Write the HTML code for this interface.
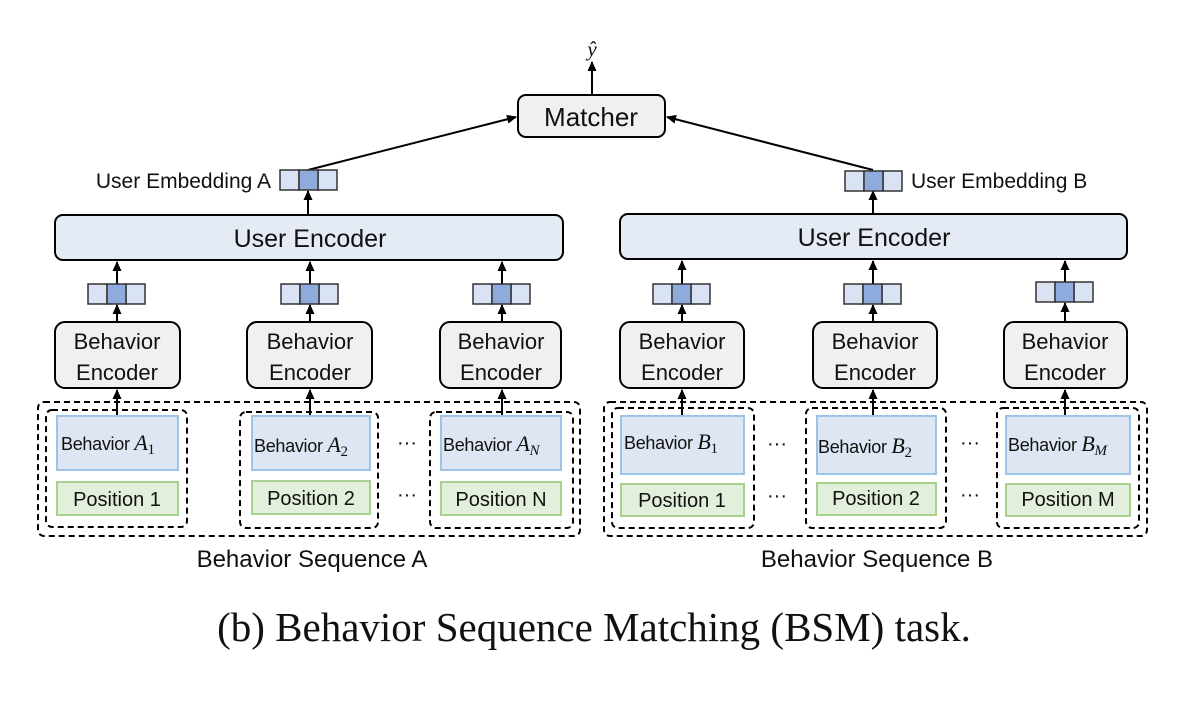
<!DOCTYPE html>
<html><head><meta charset="utf-8"><style>
body{margin:0;background:#fff;width:1194px;height:716px;overflow:hidden}
text{font-family:"Liberation Sans",sans-serif;fill:#111}
</style></head><body>
<svg width="1194" height="716" viewBox="0 0 1194 716" xmlns="http://www.w3.org/2000/svg">
<defs><marker id="a" markerWidth="10" markerHeight="10" refX="9" refY="5" orient="auto" markerUnits="userSpaceOnUse"><path d="M0,0.5 L10,5 L0,9.5 z" fill="#000"/></marker></defs>
<g stroke="#000" stroke-width="2" fill="none">
<line x1="592" y1="95" x2="592" y2="62" marker-end="url(#a)"/>
<line x1="308" y1="170" x2="516" y2="117" marker-end="url(#a)"/>
<line x1="873" y1="170" x2="667" y2="117" marker-end="url(#a)"/>
<line x1="308" y1="215" x2="308" y2="191" marker-end="url(#a)"/>
<line x1="873" y1="214" x2="873" y2="191" marker-end="url(#a)"/>
</g>
<rect x="518" y="95" width="147" height="42" rx="8" fill="#f0f0f0" stroke="#000" stroke-width="2"/>
<text x="591" y="126" font-size="26" text-anchor="middle">Matcher</text>
<text x="592" y="56" font-size="21" text-anchor="middle" font-style="italic" style="font-family:'Liberation Serif',serif">ŷ</text>
<text x="271" y="188" font-size="21" text-anchor="end">User Embedding A</text>
<text x="911" y="188" font-size="21">User Embedding B</text>
<rect x="55" y="215" width="508" height="45" rx="8" fill="#e4ebf5" stroke="#000" stroke-width="2"/>
<rect x="620" y="214" width="507" height="45" rx="8" fill="#e4ebf5" stroke="#000" stroke-width="2"/>
<text x="310" y="247" font-size="25" text-anchor="middle">User Encoder</text>
<text x="874" y="246" font-size="25" text-anchor="middle">User Encoder</text>
<g stroke="#333" stroke-width="1.5">
<g fill="#dae3f3"><rect x="280" y="170" width="19" height="20"/><rect x="318" y="170" width="19" height="20"/>
<rect x="845" y="171" width="19" height="20"/><rect x="883" y="171" width="19" height="20"/></g>
<g fill="#8faadc"><rect x="299" y="170" width="19" height="20"/><rect x="864" y="171" width="19" height="20"/></g>
</g>
<g stroke="#000" stroke-width="2" fill="none">
<line x1="117" y1="284" x2="117" y2="262" marker-end="url(#a)"/><line x1="117" y1="322" x2="117" y2="305" marker-end="url(#a)"/><line x1="117" y1="415" x2="117" y2="390" marker-end="url(#a)"/>
<line x1="310" y1="284" x2="310" y2="262" marker-end="url(#a)"/><line x1="310" y1="322" x2="310" y2="305" marker-end="url(#a)"/><line x1="310" y1="415" x2="310" y2="390" marker-end="url(#a)"/>
<line x1="502" y1="284" x2="502" y2="262" marker-end="url(#a)"/><line x1="502" y1="322" x2="502" y2="305" marker-end="url(#a)"/><line x1="502" y1="415" x2="502" y2="390" marker-end="url(#a)"/>
<line x1="682" y1="284" x2="682" y2="261" marker-end="url(#a)"/><line x1="682" y1="322" x2="682" y2="305" marker-end="url(#a)"/><line x1="682" y1="415" x2="682" y2="390" marker-end="url(#a)"/>
<line x1="873" y1="284" x2="873" y2="261" marker-end="url(#a)"/><line x1="873" y1="322" x2="873" y2="305" marker-end="url(#a)"/><line x1="873" y1="415" x2="873" y2="390" marker-end="url(#a)"/>
<line x1="1065" y1="282" x2="1065" y2="261" marker-end="url(#a)"/><line x1="1065" y1="322" x2="1065" y2="303" marker-end="url(#a)"/><line x1="1065" y1="415" x2="1065" y2="390" marker-end="url(#a)"/>
</g>
<g stroke="#333" stroke-width="1.5">
<g fill="#dae3f3">
<rect x="88" y="284" width="19" height="20"/><rect x="126" y="284" width="19" height="20"/>
<rect x="281" y="284" width="19" height="20"/><rect x="319" y="284" width="19" height="20"/>
<rect x="473" y="284" width="19" height="20"/><rect x="511" y="284" width="19" height="20"/>
<rect x="653" y="284" width="19" height="20"/><rect x="691" y="284" width="19" height="20"/>
<rect x="844" y="284" width="19" height="20"/><rect x="882" y="284" width="19" height="20"/>
<rect x="1036" y="282" width="19" height="20"/><rect x="1074" y="282" width="19" height="20"/>
</g><g fill="#8faadc">
<rect x="107" y="284" width="19" height="20"/><rect x="300" y="284" width="19" height="20"/><rect x="492" y="284" width="19" height="20"/>
<rect x="672" y="284" width="19" height="20"/><rect x="863" y="284" width="19" height="20"/><rect x="1055" y="282" width="19" height="20"/>
</g></g>
<g fill="#f0f0f0" stroke="#000" stroke-width="2">
<rect x="55" y="322" width="125" height="66" rx="10"/><rect x="247" y="322" width="125" height="66" rx="10"/><rect x="440" y="322" width="121" height="66" rx="10"/>
<rect x="620" y="322" width="124" height="66" rx="10"/><rect x="813" y="322" width="124" height="66" rx="10"/><rect x="1004" y="322" width="123" height="66" rx="10"/>
</g>
<g font-size="22" text-anchor="middle">
<text x="117" y="349">Behavior</text><text x="117" y="380">Encoder</text>
<text x="310" y="349">Behavior</text><text x="310" y="380">Encoder</text>
<text x="501" y="349">Behavior</text><text x="501" y="380">Encoder</text>
<text x="682" y="349">Behavior</text><text x="682" y="380">Encoder</text>
<text x="875" y="349">Behavior</text><text x="875" y="380">Encoder</text>
<text x="1065" y="349">Behavior</text><text x="1065" y="380">Encoder</text>
</g>
<g fill="none" stroke="#000" stroke-width="2" stroke-dasharray="6,4">
<rect x="38" y="402" width="542" height="134" rx="6"/>
<rect x="46" y="410" width="141" height="117" rx="6"/><rect x="240" y="412" width="138" height="116" rx="6"/><rect x="430" y="412" width="143" height="116" rx="6"/>
<rect x="604" y="402" width="543" height="134" rx="6"/>
<rect x="612" y="408" width="142" height="120" rx="6"/><rect x="806" y="408" width="140" height="120" rx="6"/><rect x="997" y="408" width="142" height="120" rx="6"/>
</g>
<g fill="#dde6f2" stroke="#9dc3e6" stroke-width="2">
<rect x="57" y="416" width="121" height="54"/><rect x="252" y="416" width="118" height="54"/><rect x="441" y="416" width="120" height="54"/>
<rect x="621" y="416" width="123" height="58"/><rect x="817" y="416" width="119" height="58"/><rect x="1006" y="416" width="124" height="58"/>
</g>
<g fill="#e2efda" stroke="#a9d18e" stroke-width="2">
<rect x="57" y="482" width="121" height="33"/><rect x="252" y="481" width="118" height="33"/><rect x="441" y="482" width="120" height="33"/>
<rect x="621" y="484" width="123" height="32"/><rect x="817" y="483" width="119" height="32"/><rect x="1006" y="484" width="124" height="32"/>
</g>
<g font-size="18" letter-spacing="-0.3">
<text x="61" y="450">Behavior <tspan font-style="italic" font-size="22" style="font-family:'Liberation Serif',serif">A</tspan><tspan font-size="15" dy="4" style="font-family:'Liberation Serif',serif">1</tspan></text>
<text x="254" y="452">Behavior <tspan font-style="italic" font-size="22" style="font-family:'Liberation Serif',serif">A</tspan><tspan font-size="15" dy="4" style="font-family:'Liberation Serif',serif">2</tspan></text>
<text x="443" y="451">Behavior <tspan font-style="italic" font-size="22" style="font-family:'Liberation Serif',serif">A</tspan><tspan font-size="15" dy="4" font-style="italic" style="font-family:'Liberation Serif',serif">N</tspan></text>
<text x="624" y="449">Behavior <tspan font-style="italic" font-size="22" style="font-family:'Liberation Serif',serif">B</tspan><tspan font-size="15" dy="4" style="font-family:'Liberation Serif',serif">1</tspan></text>
<text x="818" y="453">Behavior <tspan font-style="italic" font-size="22" style="font-family:'Liberation Serif',serif">B</tspan><tspan font-size="15" dy="4" style="font-family:'Liberation Serif',serif">2</tspan></text>
<text x="1008" y="451">Behavior <tspan font-style="italic" font-size="22" style="font-family:'Liberation Serif',serif">B</tspan><tspan font-size="15" dy="4" font-style="italic" style="font-family:'Liberation Serif',serif">M</tspan></text>
</g>
<g font-size="20" text-anchor="middle">
<text x="117" y="506">Position 1</text><text x="311" y="505">Position 2</text><text x="501" y="506">Position N</text>
<text x="682" y="507">Position 1</text><text x="876" y="505">Position 2</text><text x="1068" y="506">Position M</text>
<text x="407" y="449">···</text><text x="407" y="501">···</text>
<text x="777" y="450">···</text><text x="777" y="502">···</text>
<text x="970" y="449">···</text><text x="970" y="501">···</text>
</g>
<text x="312" y="567" font-size="24" text-anchor="middle">Behavior Sequence A</text>
<text x="877" y="567" font-size="24" text-anchor="middle">Behavior Sequence B</text>
<text x="594" y="641" font-size="41" text-anchor="middle" style="font-family:'Liberation Serif',serif">(b)  Behavior Sequence Matching (BSM) task.</text>
</svg>
</body></html>
